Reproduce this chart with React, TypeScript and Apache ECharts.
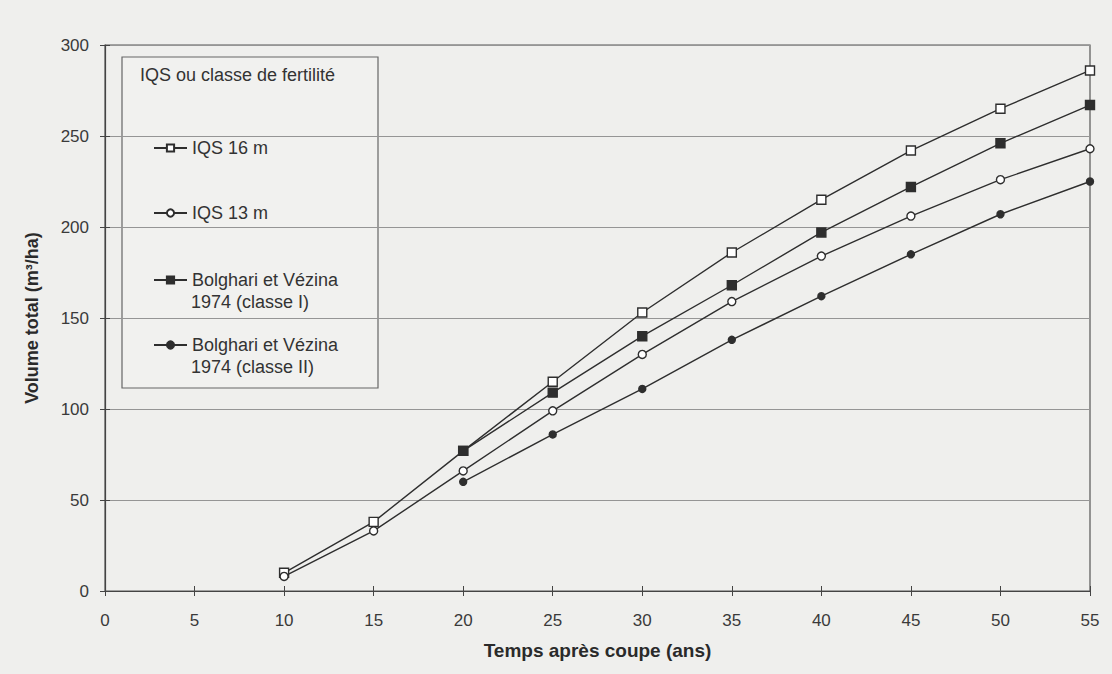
import React, { useEffect, useRef } from "react";
import * as echarts from "echarts";

const years = [10, 15, 20, 25, 30, 35, 40, 45, 50, 55];
const iqs16 = [10, 38, 77, 115, 153, 186, 215, 242, 265, 286];
const iqs13 = [8, 33, 66, 99, 130, 159, 184, 206, 226, 243];
const bolgYears = [20, 25, 30, 35, 40, 45, 50, 55];
const bolgI = [77, 109, 140, 168, 197, 222, 246, 267];
const bolgII = [60, 86, 111, 138, 162, 185, 207, 225];

const names = [
  "IQS 16 m",
  "IQS 13 m",
  "Bolghari et Vézina 1974 (classe I)",
  "Bolghari et Vézina 1974 (classe II)",
];
const legendTitle = "IQS ou classe de fertilité";
const xTitle = "Temps après coupe (ans)";
const yTitle = "Volume total (m³/ha)";

const zip = (xs: number[], ys: number[]) => xs.map((x, i) => [x, ys[i]]);

export default function App() {
  const ref = useRef<HTMLDivElement>(null);
  useEffect(() => {
    const chart = echarts.init(ref.current!, null, { renderer: "svg" });
    const ink = "#2e2e2e";
    const font = "'Liberation Sans', Arial, sans-serif";
    const mk = (name: string, data: number[][], symbol: string, filled: boolean, size: number) => ({
      name,
      type: "line",
      data,
      symbol,
      symbolSize: size,
      showAllSymbol: true,
      lineStyle: { color: ink, width: 1.4 },
      itemStyle: { color: filled ? ink : "#ffffff", borderColor: ink, borderWidth: 1.4 },
    });
    const legendCenters = [148, 213, 280, 345];
    const secondLines = names.map((n) => {
      const k = n.indexOf(" 1974");
      return k >= 0 ? n.slice(k + 1) : "";
    });
    const axisCommon = {
      axisLine: { lineStyle: { color: "#444", width: 1.2 } },
      axisTick: { show: true, length: 5, lineStyle: { color: "#444" } },
      axisLabel: { fontSize: 17, color: "#3a3a3a", fontFamily: font },
    };
    chart.setOption({
      animation: false,
      backgroundColor: "#efefed",
      textStyle: { fontFamily: font },
      grid: { left: 105, right: 22, top: 45, bottom: 83, show: true, borderColor: "#555", borderWidth: 1.2, backgroundColor: "transparent" },
      xAxis: [
        {
          type: "value",
          min: 0,
          max: 55,
          interval: 5,
          name: xTitle,
          nameLocation: "middle",
          nameGap: 50,
          nameTextStyle: { fontWeight: "bold", fontSize: 19, color: "#2a2a2a", fontFamily: font },
          ...axisCommon,
          axisLabel: { ...axisCommon.axisLabel, margin: 21 },
          splitLine: { show: false },
        },
        {
          type: "value",
          position: "bottom",
          min: 0,
          max: 55,
          interval: 5,
          axisLine: { show: false },
          axisTick: { show: true, inside: true, length: 5, lineStyle: { color: "#444" } },
          axisLabel: { show: false },
          splitLine: { show: false },
        },
      ],
      yAxis: [
        {
          type: "value",
          min: 0,
          max: 300,
          interval: 50,
          name: yTitle,
          nameLocation: "middle",
          nameGap: 64,
          nameTextStyle: { fontWeight: "bold", fontSize: 18, color: "#2a2a2a", fontFamily: font },
          ...axisCommon,
          axisLabel: { ...axisCommon.axisLabel, margin: 16 },
          splitLine: { show: true, lineStyle: { color: "#959595", width: 1 } },
        },
        {
          type: "value",
          position: "left",
          min: 0,
          max: 300,
          interval: 50,
          axisLine: { show: false },
          axisTick: { show: true, inside: true, length: 5, lineStyle: { color: "#444" } },
          axisLabel: { show: false },
          splitLine: { show: false },
        },
      ],
      legend: names.map((n, i) => ({
        data: [n],
        left: 153,
        top: legendCenters[i] - 10,
        padding: 0,
        orient: "vertical",
        itemWidth: 33,
        itemHeight: 9,
        itemGap: 4,
        formatter: (name: string) => {
          const k = name.indexOf(" 1974");
          return k >= 0 ? name.slice(0, k) : name;
        },
        textStyle: { fontSize: 18, color: "#333", fontFamily: font, lineHeight: 20 },
        selectedMode: false,
      })),
      graphic: [
        {
          type: "rect",
          shape: { x: 122, y: 57, width: 256, height: 331 },
          style: { fill: "#f1f1ef", stroke: "#666", lineWidth: 1.2 },
          z: 0,
        },
        {
          type: "text",
          x: 140,
          y: 75,
          style: { text: legendTitle, fontSize: 18, fill: "#333", fontFamily: font, verticalAlign: "middle" },
          z: 1,
        },
        ...secondLines
          .map((t, i) => ({ t, i }))
          .filter((o) => o.t)
          .map((o) => ({
            type: "text",
            x: 191,
            y: legendCenters[o.i] + 22,
            style: { text: o.t, fontSize: 18, fill: "#333", fontFamily: font, verticalAlign: "middle" },
            z: 1,
          })),
      ],
      series: [
        mk(names[0], zip(years, iqs16), "rect", false, 9),
        mk(names[1], zip(years, iqs13), "circle", false, 8),
        mk(names[2], zip(bolgYears, bolgI), "rect", true, 9),
        mk(names[3], zip(bolgYears, bolgII), "circle", true, 7),
      ],
    });
    return () => chart.dispose();
  }, []);
  return (
    <div
      ref={ref}
      style={{ position: "fixed", left: 0, top: 0, width: 1112, height: 674 }}
    />
  );
}
